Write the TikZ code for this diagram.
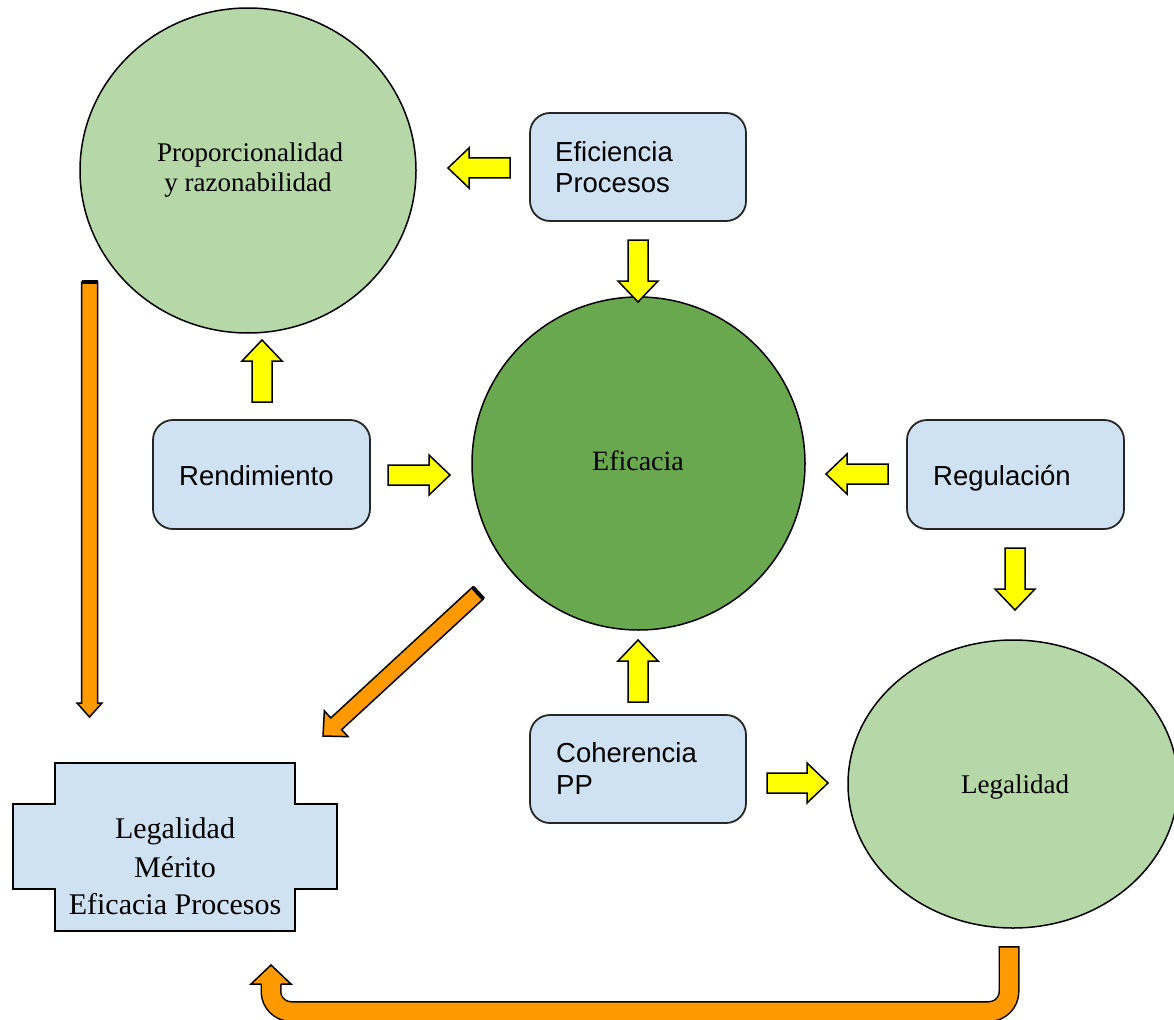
\documentclass[tikz,border=0pt]{standalone}
\usepackage{fontspec}
\setmainfont{Liberation Serif}
\newfontfamily\labelsans{Liberation Sans}
\usetikzlibrary{calc,shapes.geometric}

\definecolor{paleGreen}{HTML}{B6D7A8}
\definecolor{deepGreen}{HTML}{6AA84F}
\definecolor{paleBlue}{HTML}{CFE2F3}
\definecolor{arrowOrange}{HTML}{FF9900}
\definecolor{arrowYellow}{HTML}{FFFF00}

\tikzset{
  bubble/.style={ellipse, draw=black, line width=1.5pt, inner sep=0pt},
  card/.style={rectangle, rounded corners=20pt, draw=black!85, line width=1.8pt,
               fill=paleBlue, inner sep=0pt},
  serifText/.style={font=\fontsize{27}{32}\selectfont, anchor=base, inner sep=0pt},
  boxSerif/.style={font=\fontsize{30}{36}\selectfont, anchor=base, inner sep=0pt},
  sansText/.style={font=\labelsans\fontsize{27.5}{32}\selectfont, anchor=base west, inner sep=0pt},
  yarrow/.style={fill=arrowYellow, draw=black, line width=1.5pt},
  oarrow/.style={fill=arrowOrange, draw=black, line width=1.5pt},
}

% block arrow: #1 style, #2 tail, #3 tip, #4 half shaft width, #5 half head width, #6 head length
\newcommand\blockarrow[6]{%
  \coordinate (ah) at ($(#3)!#6!(#2)$);
  \draw[#1] ($(#2)!#4!90:(#3)$) -- ($(ah)!#4!90:(#3)$) -- ($(ah)!#5!90:(#3)$) -- (#3)
    -- ($(ah)!#5!-90:(#3)$) -- ($(ah)!#4!-90:(#3)$) -- ($(#2)!#4!-90:(#3)$) -- cycle;
}
% heavy black end on the tail of an arrow
\newcommand\tailcap[3]{%
  \draw[line width=4pt] ($(#1)!#3!90:(#2)$) -- ($(#1)!#3!-90:(#2)$);
}

\begin{document}
\begin{tikzpicture}[x=1pt,y=-1pt]
\useasboundingbox (0,0) rectangle (1174,1019);

% circles
\node[bubble, fill=paleGreen, minimum width=336pt, minimum height=325pt] (prop) at (248,170.5) {};
\node[bubble, fill=deepGreen, minimum width=333pt, minimum height=333pt] (efic) at (638.5,463.5) {};
\node[bubble, fill=paleGreen, minimum width=330pt, minimum height=288pt] (legal) at (1013,784) {};

\node[serifText] (propA) at (250,162) {Proporcionalidad};
\node[serifText] (propB) at (248,192) {y razonabilidad};
\node[serifText, font=\fontsize{28}{32}\selectfont] (eficT) at (638,470) {Eficacia};
\node[serifText] (legalT) at (1015,793) {Legalidad};

% rounded boxes
\node[card, minimum width=216pt, minimum height=108pt] (efproc) at (638,167) {};
\node[card, minimum width=217pt, minimum height=109pt] (rend) at (261.5,474.5) {};
\node[card, minimum width=217pt, minimum height=109pt] (regu) at (1015.5,474.5) {};
\node[card, minimum width=216pt, minimum height=108pt] (coher) at (638,769) {};

\node[sansText] (efprocA) at (555,162) {Eficiencia};
\node[sansText] (efprocB) at (555,193) {Procesos};
\node[sansText] (rendT) at (179,485) {Rendimiento};
\node[sansText] (reguT) at (933,485) {Regulación};
\node[sansText] (coherA) at (556,762) {Coherencia};
\node[sansText] (coherB) at (556,794) {PP};

% cross-shaped box
\draw[fill=paleBlue, draw=black, line width=1.5pt]
  (55,763) -- (295,763) -- (295,804) -- (337,804) -- (337,889) -- (295,889)
  -- (295,931) -- (55,931) -- (55,889) -- (13,889) -- (13,804) -- (55,804) -- cycle;
\coordinate (merit) at (175,847);
\node[boxSerif] (meritA) at (175,838) {Legalidad};
\node[boxSerif] (meritB) at (175,877) {Mérito};
\node[boxSerif] (meritC) at (175,914) {Eficacia Procesos};

% yellow arrows
\coordinate (y1t) at (510,168);  \coordinate (y1h) at (448,168);
\coordinate (y2t) at (638,240);  \coordinate (y2h) at (638,302);
\coordinate (y3t) at (262,402);  \coordinate (y3h) at (262,340);
\coordinate (y4t) at (388,475);  \coordinate (y4h) at (450,475);
\coordinate (y5t) at (888,474);  \coordinate (y5h) at (826,474);
\coordinate (y6t) at (1015,548); \coordinate (y6h) at (1015,610);
\coordinate (y7t) at (638,702);  \coordinate (y7h) at (638,640);
\coordinate (y8t) at (767,783);  \coordinate (y8h) at (828,783);
\blockarrow{yarrow}{y1t}{y1h}{10pt}{20pt}{21pt}
\blockarrow{yarrow}{y2t}{y2h}{10pt}{20pt}{21pt}
\blockarrow{yarrow}{y3t}{y3h}{10pt}{20pt}{21pt}
\blockarrow{yarrow}{y4t}{y4h}{10pt}{20pt}{21pt}
\blockarrow{yarrow}{y5t}{y5h}{10pt}{20pt}{21pt}
\blockarrow{yarrow}{y6t}{y6h}{10pt}{20pt}{21pt}
\blockarrow{yarrow}{y7t}{y7h}{10pt}{20pt}{21pt}
\blockarrow{yarrow}{y8t}{y8h}{10pt}{20pt}{21pt}

% orange arrows
\coordinate (o1t) at (89.5,282); \coordinate (o1h) at (89.5,717);
\blockarrow{oarrow}{o1t}{o1h}{8pt}{12.5pt}{14pt}
\tailcap{o1t}{o1h}{8pt}
\coordinate (o2t) at (478,593); \coordinate (o2h) at (323,736);
\blockarrow{oarrow}{o2t}{o2h}{8pt}{17.5pt}{18pt}
\tailcap{o2t}{o2h}{8pt}

% bent return arrow along the bottom
\coordinate (o3t) at (1009,946);
\coordinate (o3a) at (1009,1011.5);
\coordinate (o3b) at (271,1011.5);
\coordinate (o3c) at (271,983);
\coordinate (o3h) at (271,965);
\draw[black, line width=21pt, rounded corners=20pt] (o3t) -- (o3a) -- (o3b) -- (o3c);
\draw[arrowOrange, line width=18pt, rounded corners=20pt, shorten <=1.5pt] (o3t) -- (o3a) -- (o3b) -- (o3c);
\path[fill=arrowOrange, draw=black, line width=1.5pt]
  (261.25,984) -- (251,984) -- (o3h) -- (291,984) -- (280.75,984);
\end{tikzpicture}
\end{document}
